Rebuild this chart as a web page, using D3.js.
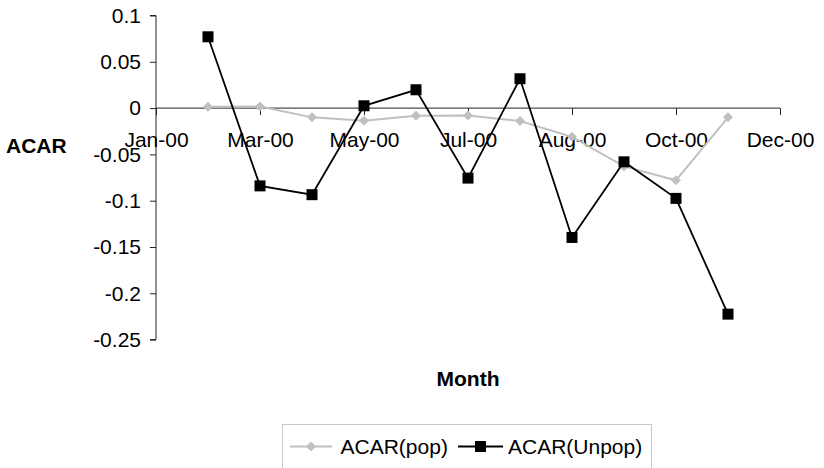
<!DOCTYPE html>
<html><head><meta charset="utf-8">
<script src="https://cdn.jsdelivr.net/npm/d3@7"></script>
<style>body{margin:0;background:#fff}svg{display:block;font-family:"Liberation Sans",Arial,sans-serif}</style>
</head><body>
<svg id="c" width="824" height="468"></svg>
<script>
const xTickPos = [0, 2, 4, 6, 8, 10, 12];
const xTickLabels = ["Jan-00", "Mar-00", "May-00", "Jul-00", "Aug-00", "Oct-00", "Dec-00"];
const pointPos = [1, 2, 3, 4, 5, 6, 7, 8, 9, 10, 11];
const acarPop = [0.0014, 0.0018, -0.010, -0.0137, -0.0083, -0.008, -0.014, -0.031, -0.063, -0.078, -0.010];
const acarUnpop = [0.077, -0.084, -0.0935, 0.0025, 0.0198, -0.0756, 0.0317, -0.1397, -0.058, -0.0975, -0.2225];
const yTicks = [0.1, 0.05, 0, -0.05, -0.1, -0.15, -0.2, -0.25];
const yTickLabels = ["0.1", "0.05", "0", "-0.05", "-0.1", "-0.15", "-0.2", "-0.25"];
const seriesNames = ["ACAR(pop)", "ACAR(Unpop)"];

const svg = d3.select("#c");
const x = d3.scaleLinear().domain([0, 12]).range([156, 780]);
const y = d3.scaleLinear().domain([-0.25, 0.1]).range([339.6, 15.5]);
const FS = 21;

// y axis
const ya = svg.append("g").attr("transform", "translate(156,0)")
  .call(d3.axisLeft(y).tickValues(yTicks).tickSize(6).tickPadding(9)
    .tickFormat((d, i) => yTickLabels[i]));
ya.select(".domain").attr("stroke", "#222").attr("d", `M-6,${y(0.1)}H0V${y(-0.25)}H-6`);
ya.selectAll(".tick line").attr("stroke", "#222");
ya.selectAll("text").attr("font-size", FS).attr("fill", "#000").attr("font-family", "Liberation Sans, Arial, sans-serif");

// x axis at y=0
const xa = svg.append("g").attr("transform", `translate(0,${y(0)})`)
  .call(d3.axisBottom(x).tickValues(xTickPos).tickSize(7).tickPadding(17)
    .tickFormat((d, i) => xTickLabels[i]));
xa.select(".domain").attr("stroke", "#222").attr("d", `M${x(0)},0H${x(12)}`);
xa.selectAll(".tick line").attr("stroke", "#222");
xa.selectAll("text").attr("font-size", FS).attr("fill", "#000").attr("font-family", "Liberation Sans, Arial, sans-serif");

// titles
svg.append("text").attr("x", 6).attr("y", 153).attr("font-size", FS).attr("font-weight", "bold").text("ACAR");
svg.append("text").attr("x", 468).attr("y", 386).attr("text-anchor", "middle").attr("font-size", FS).attr("font-weight", "bold").text("Month");

const line = d3.line().x((d, i) => x(pointPos[i])).y(d => y(d));
const diamondSym = d3.symbol().type(d3.symbolSquare).size(50);

// pop series
svg.append("path").datum(acarPop).attr("d", line).attr("fill", "none").attr("stroke", "#c0c0c0").attr("stroke-width", 2);
svg.append("g").selectAll("path").data(acarPop).join("path")
  .attr("transform", (d, i) => `translate(${x(pointPos[i])},${y(d)}) rotate(45)`)
  .attr("d", diamondSym).attr("fill", "#c0c0c0");

// unpop series
svg.append("path").datum(acarUnpop).attr("d", line).attr("fill", "none").attr("stroke", "#000").attr("stroke-width", 1.8);
svg.append("g").selectAll("rect").data(acarUnpop).join("rect")
  .attr("x", (d, i) => x(pointPos[i]) - 5.5).attr("y", d => y(d) - 5.5)
  .attr("width", 11).attr("height", 11).attr("fill", "#000");

// legend
const lg = svg.append("g");
lg.append("rect").attr("x", 282.5).attr("y", 424.5).attr("width", 369).attr("height", 60)
  .attr("fill", "#fff").attr("stroke", "#c8c8c8").attr("stroke-width", 1);
lg.append("line").attr("x1", 290).attr("x2", 332).attr("y1", 446.5).attr("y2", 446.5).attr("stroke", "#c0c0c0").attr("stroke-width", 2);
lg.append("path").attr("transform", "translate(311,446.5) rotate(45)").attr("d", diamondSym).attr("fill", "#c0c0c0");
lg.append("text").attr("x", 340.5).attr("y", 453.5).attr("font-size", FS).text(seriesNames[0]);
lg.append("line").attr("x1", 458).attr("x2", 503).attr("y1", 446.5).attr("y2", 446.5).attr("stroke", "#000").attr("stroke-width", 2);
lg.append("rect").attr("x", 475).attr("y", 441).attr("width", 11).attr("height", 11).attr("fill", "#000");
lg.append("text").attr("x", 508).attr("y", 453.5).attr("font-size", FS).text(seriesNames[1]);
</script>
</body></html>
